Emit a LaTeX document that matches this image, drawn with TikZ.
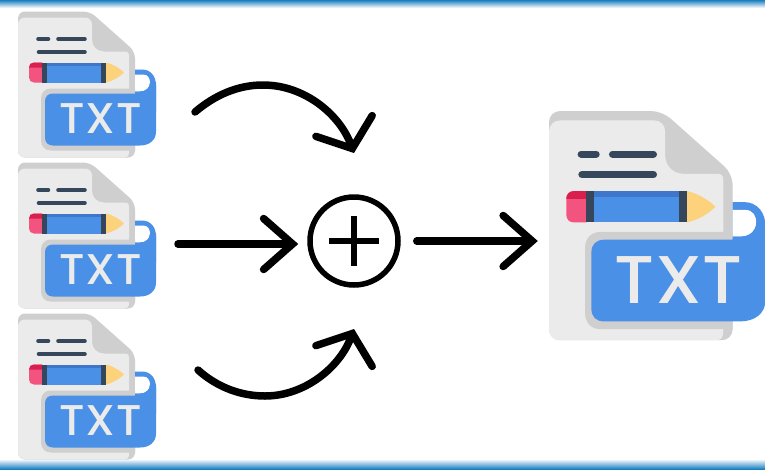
\documentclass[tikz,border=0pt]{standalone}
\usepackage{fontspec}
\usetikzlibrary{arrows.meta}
\newfontfamily\txtfont{Poppins}[UprightFont=* Medium,LetterSpace=1.5,FakeStretch=1.05]
\definecolor{pagedark}{HTML}{CFCFCF}
\definecolor{pagelight}{HTML}{EBEBEB}
\definecolor{slate}{HTML}{36475C}
\definecolor{labelblue}{HTML}{4A90E6}
\definecolor{blueshade}{HTML}{3E76CC}
\definecolor{erasepink}{HTML}{F2537F}
\definecolor{erasered}{HTML}{D81F4E}
\definecolor{tipyellow}{HTML}{FDD27C}
\definecolor{bandblue}{HTML}{1A7FC0}
\definecolor{bandlight}{HTML}{45A8E2}
\tikzset{
  flowline/.style={line width=7.5pt,line cap=round,black},
  flow/.style={flowline,-{Straight Barb[length=29pt,width=51pt,line width=7.5pt,line cap=round,line join=miter]}},
  curveflow/.style={flowline,-{Straight Barb[length=24pt,width=60pt,line width=7.5pt,line cap=round,line join=miter]}},
  txtlabel/.style={text=pagelight,inner sep=0pt,font=\txtfont\fontsize{43}{43}\selectfont},
  sumnode/.style={circle,draw=black,line width=5.5pt,minimum size=88pt,inner sep=0pt},
  plusbar/.style={line width=6pt,black},
  docbox/.style={inner sep=0pt,minimum width=#1,draw=none}
}
% #1 name, #2 x, #3 y, #4 scale
\newcommand{\docicon}[4]{%
\begin{scope}[shift={(#2,#3)},scale=#4]
  \fill[pagedark,rounded corners=#4*7pt] (0,0) -- (72,0) -- (117,40) -- (117,146) -- (0,146) -- cycle;
  \fill[pagelight] (7,6) -- (67,6) .. controls (71,6) and (74,9) .. (74,13) -- (74,28) .. controls (74,35) and (79,40) .. (86,40) -- (107,40) .. controls (110,40) and (111,41) .. (111,44) -- (111,140) .. controls (111,144) and (110,146) .. (106,146) -- (7,146) .. controls (3,146) and (0,143) .. (0,139) -- (0,13) .. controls (0,9) and (3,6) .. (7,6) -- cycle;
  \draw[slate,line width=#4*4.6pt,line cap=round] (20.5,27.5) -- (30,27.5) (40.5,27.5) -- (66.5,27.5) (21,40.5) -- (66.5,40.5);
  % pencil
  \fill[erasepink] (24,51) -- (16,51) .. controls (13,51) and (11,53) .. (11,56) -- (11,66) .. controls (11,69) and (13,71) .. (16,71) -- (24,71) -- cycle;
  \fill[erasered] (24,51) -- (16,51) .. controls (13,51) and (11,53) .. (11,56) -- (24,56) -- cycle;
  \fill[labelblue] (27,51) rectangle (88,71);
  \fill[blueshade] (27,51) rectangle (88,54.5);
  \fill[slate] (23.5,51) rectangle (28.5,71);
  \fill[slate] (83,51) rectangle (88,71);
  \fill[tipyellow] (88,51) .. controls (96,53) and (102,57) .. (106,61) .. controls (102,65) and (96,69) .. (88,71) -- cycle;
  % curl
  \fill[labelblue] (117,58) -- (124,58) .. controls (133,58) and (138,65) .. (138,74) -- (138,100) -- (117,100) -- cycle;
  \fill[white] (117,63) -- (125,63) .. controls (130,63) and (132,67) .. (132,71) .. controls (132,76) and (128,80) .. (122,80) -- (117,80) -- cycle;
  % label
  \fill[pagedark] (33,77) -- (117,77) -- (117,139) -- (33,139) .. controls (27,139) and (23,135) .. (23,129) -- (23,87) .. controls (23,81) and (27,77) .. (33,77) -- cycle;
  \fill[labelblue] (35,82) -- (117,82) -- (117,80) -- (122,80) .. controls (128,80) and (132,76) .. (132,71) -- (138,71) -- (138,120) .. controls (138,129) and (131,134) .. (122,134) -- (35,134) .. controls (30,134) and (27,131) .. (27,126) -- (27,90) .. controls (27,85) and (30,82) .. (35,82) -- cycle;
  \node[txtlabel,scale=#4] (#1txt) at (82.5,107.5) {TXT};
  \node[docbox=#4*117pt,minimum height=#4*146pt] (#1) at (58.5,73) {};
\end{scope}}
\begin{document}
\begin{tikzpicture}[x=1pt,y=-1pt]
\useasboundingbox (0,0) rectangle (765,469);
\fill[white] (0,0) rectangle (765,469);
\shade[top color=bandblue,middle color=bandlight,bottom color=white] (0,0) rectangle (765,8);
\shade[top color=white,middle color=bandlight,bottom color=bandblue] (0,459) rectangle (765,469);
\docicon{docA}{18}{11.5}{1}
\docicon{docB}{18}{162.5}{1}
\docicon{docC}{18}{313.5}{1}
\docicon{docR}{549}{111}{1.57}
\node[sumnode] (sum) at (354,241) {};
\draw[plusbar] (329,241) -- (379,241) (354,216) -- (354,266);
\coordinate (upstart) at (195,112);
\coordinate (uppeak) at (263,85);
\coordinate (uptip) at (354,153);
\coordinate (midstart) at (178,244);
\coordinate (lowstart) at (198,370);
\coordinate (lowpeak) at (265,396);
\coordinate (lowtip) at (354,329);
\draw[curveflow] (upstart) .. controls (215,95) and (238,85) .. (uppeak) .. controls (305,85) and (340,115) .. (uptip);
\draw[flow,shorten >=9pt] (midstart) -- (midstart -| sum.west);
\draw[curveflow] (lowstart) .. controls (218,388) and (242,396) .. (lowpeak) .. controls (305,396) and (340,367) .. (lowtip);
\draw[flow,shorten <=16pt,shorten >=11pt] (sum.east) -- (sum.east -| docR.west);
\end{tikzpicture}
\end{document}
